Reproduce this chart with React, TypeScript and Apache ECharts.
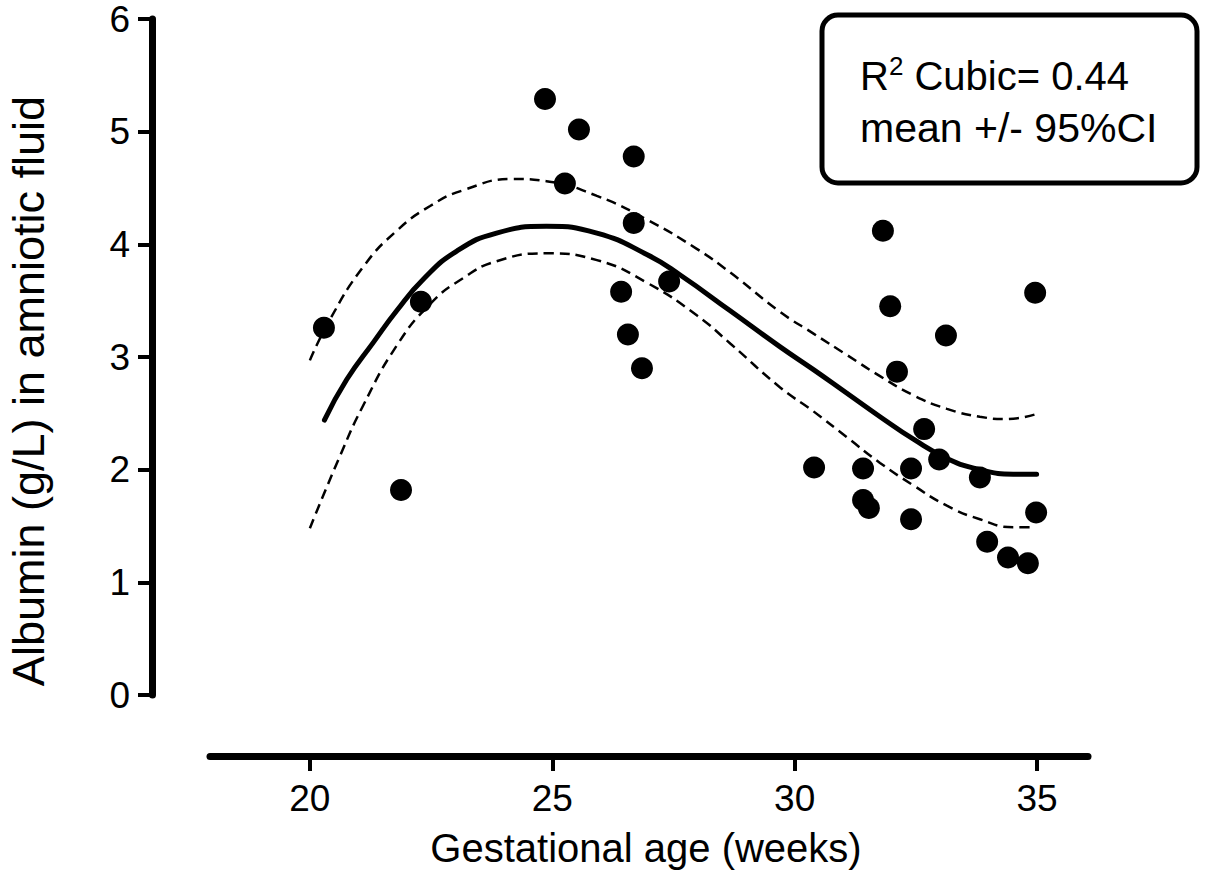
import React, { useEffect, useRef } from "react";
import * as echarts from "echarts";

// Observed data points: gestational age (weeks), albumin (g/L)
const pointWeeks = [
  20.29, 21.88, 22.29, 24.85, 25.26, 25.55, 26.42, 26.56, 26.68, 26.68, 26.85, 27.41,
  30.4, 31.41, 31.41, 31.53, 31.82, 31.97, 32.11, 32.4, 32.4, 32.67, 32.98, 33.12,
  33.82, 33.97, 34.4, 34.81, 34.96, 34.98,
];
const pointAlbumin = [
  3.26, 1.82, 3.49, 5.29, 4.54, 5.02, 3.58, 3.2, 4.78, 4.19, 2.9, 3.67,
  2.02, 2.01, 1.73, 1.66, 4.12, 3.45, 2.87, 2.01, 1.56, 2.36, 2.09, 3.19,
  1.93, 1.36, 1.22, 1.17, 3.57, 1.62,
];

// Cubic fit (mean)
const meanWeeks = [20.3, 20.76, 21.31, 21.79, 22.34, 23.03, 23.85, 24.88, 25.92, 26.95, 27.63, 28.67, 29.7, 30.38, 31.07, 31.76, 32.45, 33.14, 33.82, 34.51, 34.99];
const meanAlbumin = [2.44, 2.8, 3.13, 3.41, 3.69, 3.94, 4.1, 4.16, 4.1, 3.91, 3.73, 3.41, 3.09, 2.89, 2.68, 2.47, 2.27, 2.1, 2.0, 1.96, 1.96];

// Upper 95% CI
const upperWeeks = [20.0, 20.41, 21.1, 21.79, 22.48, 23.16, 24.19, 24.88, 25.92, 26.95, 27.98, 28.67, 29.7, 30.38, 31.07, 31.76, 32.45, 33.14, 33.82, 34.37, 34.96];
const upperAlbumin = [2.97, 3.33, 3.8, 4.12, 4.34, 4.48, 4.58, 4.56, 4.43, 4.22, 3.96, 3.75, 3.4, 3.21, 3.02, 2.83, 2.66, 2.54, 2.47, 2.45, 2.49];

// Lower 95% CI
const lowerWeeks = [20.0, 20.62, 21.1, 21.79, 22.48, 23.16, 23.85, 24.88, 25.92, 26.95, 27.98, 28.67, 29.7, 30.38, 31.07, 31.76, 32.45, 33.14, 33.82, 34.51, 34.92];
const lowerAlbumin = [1.48, 2.12, 2.57, 3.1, 3.47, 3.7, 3.85, 3.92, 3.86, 3.66, 3.37, 3.12, 2.73, 2.52, 2.29, 2.06, 1.86, 1.68, 1.56, 1.49, 1.49];

const xTicks = [20, 25, 30, 35];
const xTitle = "Gestational age (weeks)";
const yTitle = "Albumin (g/L) in amniotic fluid";
const legendLine1 = "R";
const legendSup = "2";
const legendLine1Rest = " Cubic= 0.44";
const legendLine2 = "mean +/- 95%CI";

const FONT = "Liberation Sans, Arial, sans-serif";

const zip = (xs: number[], ys: number[]) => xs.map((x, i) => [x, ys[i]]);

export default function App() {
  const ref = useRef<HTMLDivElement>(null);
  useEffect(() => {
    if (!ref.current) return;
    const chart = echarts.init(ref.current, undefined, { renderer: "svg" });
    const lineCommon = {
      type: "line",
      smooth: 0.5,
      showSymbol: false,
      silent: true,
    };
    chart.setOption({
      animation: false,
      backgroundColor: "#ffffff",
      grid: { left: 210, right: 127, top: 19, bottom: 180 },
      xAxis: {
        type: "value",
        min: 17.94,
        max: 36.05,
        offset: 61,
        splitLine: { show: false },
        axisLine: { show: true, onZero: false, lineStyle: { color: "#000", width: 7, cap: "round" } },
        axisTick: {
          show: true,
          customValues: xTicks,
          length: 15,
          lineStyle: { color: "#000", width: 4 },
        },
        axisLabel: {
          customValues: xTicks,
          color: "#000",
          fontFamily: FONT,
          fontSize: 37,
          margin: 24,
        },
      },
      yAxis: {
        type: "value",
        min: 0,
        max: 6,
        interval: 1,
        offset: 58,
        splitLine: { show: false },
        axisLine: { show: true, onZero: false, lineStyle: { color: "#000", width: 7 } },
        axisTick: { show: true, length: 14, lineStyle: { color: "#000", width: 4 } },
        axisLabel: { color: "#000", fontFamily: FONT, fontSize: 37, margin: 22 },
      },
      series: [
        {
          ...lineCommon,
          data: zip(upperWeeks, upperAlbumin),
          lineStyle: { color: "#000", width: 2.5, type: [10, 6] },
          z: 2,
        },
        {
          ...lineCommon,
          data: zip(lowerWeeks, lowerAlbumin),
          lineStyle: { color: "#000", width: 2.5, type: [10, 6] },
          z: 2,
        },
        {
          ...lineCommon,
          data: zip(meanWeeks, meanAlbumin),
          lineStyle: { color: "#000", width: 5, cap: "round" },
          z: 3,
        },
        {
          type: "scatter",
          data: zip(pointWeeks, pointAlbumin),
          symbol: "circle",
          symbolSize: 22,
          itemStyle: { color: "#000", opacity: 1 },
          z: 4,
        },
      ],
      graphic: [
        {
          type: "text",
          x: 646,
          y: 848,
          style: {
            text: xTitle,
            font: `40px ${FONT}`,
            fill: "#000",
            align: "center",
            verticalAlign: "middle",
          },
        },
        {
          type: "text",
          x: 28,
          y: 391,
          rotation: Math.PI / 2,
          style: {
            text: yTitle,
            font: `45px ${FONT}`,
            fill: "#000",
            align: "center",
            verticalAlign: "middle",
          },
        },
        {
          type: "rect",
          shape: { x: 822, y: 15, width: 375, height: 168, r: 16 },
          style: { fill: "#fff", stroke: "#000", lineWidth: 5 },
          z: 10,
        },
        {
          type: "text",
          x: 860,
          y: 76,
          z: 11,
          style: {
            text: `{a|${legendLine1}}{s|${legendSup}}{a|${legendLine1Rest}}`,
            verticalAlign: "middle",
            align: "left",
            fill: "#000",
            rich: {
              a: { fontFamily: FONT, fontSize: 40, color: "#000", lineHeight: 46 },
              s: { fontFamily: FONT, fontSize: 26, color: "#000", verticalAlign: "top", lineHeight: 46, padding: [0, 0, 20, 0] },
            },
          },
        },
        {
          type: "text",
          x: 860,
          y: 128,
          z: 11,
          style: {
            text: legendLine2,
            font: `41px ${FONT}`,
            fill: "#000",
            align: "left",
            verticalAlign: "middle",
          },
        },
      ],
    });
    return () => chart.dispose();
  }, []);
  return (
    <div
      ref={ref}
      style={{ position: "fixed", left: 0, top: 0, width: 1215, height: 875, background: "#fff" }}
    />
  );
}
